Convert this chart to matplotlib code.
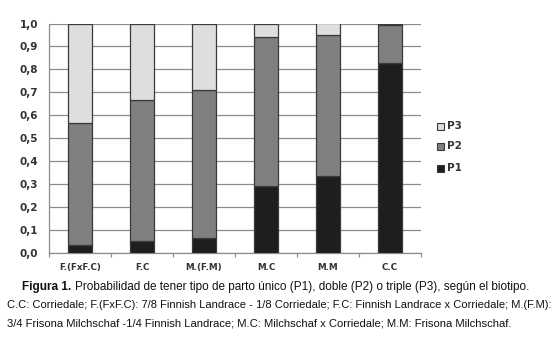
import matplotlib
matplotlib.use("Agg")
import matplotlib.pyplot as plt
import numpy as np

# Genotype groups and probability of single (P1), twin (P2) and triplet (P3) births
biotipos = ["F.(FxF.C)", "F.C", "M.(F.M)", "M.C", "M.M", "C.C"]
p1 = [0.035, 0.052, 0.064, 0.292, 0.336, 0.827]
p2 = [0.531, 0.613, 0.645, 0.647, 0.616, 0.167]
p3 = [0.434, 0.335, 0.291, 0.061, 0.048, 0.006]
yticks = [round(0.1 * i, 1) for i in range(11)]
ytick_labels = [f"{v:.1f}".replace(".", ",") for v in yticks]

W, H = 557, 339
fig = plt.figure(figsize=(W / 100, H / 100), dpi=100)
ax = fig.add_axes([49 / W, 1 - 252.7 / H, (421 - 49) / W, (252.7 - 23.5) / H])

x = np.arange(len(biotipos))
edge = "#3a3a3a"
width = 0.39
ax.bar(x, p1, width, color="#1f1d1e", edgecolor=edge, linewidth=0.9, label="P1", zorder=3)
ax.bar(x, p2, width, bottom=p1, color="#808080", edgecolor=edge, linewidth=0.9, label="P2", zorder=3)
bottom3 = np.array(p1) + np.array(p2)
ax.bar(x, p3, width, bottom=bottom3, color="#dedede", edgecolor=edge, linewidth=0.9, label="P3", zorder=3)

ax.set_xlim(-0.5, len(biotipos) - 0.5)
ax.set_ylim(0, 1.0)
ax.set_yticks(yticks)
ax.set_yticklabels(ytick_labels, fontsize=7.5, fontweight="bold", color="#333333")
ax.yaxis.grid(True, color="#8c8c8c", linewidth=0.9, zorder=0)
ax.tick_params(axis="y", length=0, pad=8)

# Category boundary ticks on the x axis, labels centred on bars
ax.set_xticks(np.arange(-0.5, len(biotipos)))
ax.set_xticklabels([])
ax.tick_params(axis="x", direction="out", length=3, color="#8c8c8c", width=0.9)
for xi, lab in zip(x, biotipos):
    ax.text(xi, -0.066, lab, ha="center", va="center", fontsize=6.3, fontweight="bold",
            color="#333333")

for s in ["top", "right"]:
    ax.spines[s].set_visible(False)
for s in ["left", "bottom"]:
    ax.spines[s].set_color("#8c8c8c")
    ax.spines[s].set_linewidth(0.9)

# Legend to the right
leg_items = [("P3", "#dedede", 126), ("P2", "#808080", 146), ("P1", "#1f1d1e", 168)]
for lab, col, py in leg_items:
    fig.patches.append(plt.Rectangle((437 / W, 1 - (py + 3.5) / H), 7 / W, 7 / H,
                                     transform=fig.transFigure, facecolor=col,
                                     edgecolor="#3a3a3a", linewidth=0.8))
    fig.text(447 / W, 1 - py / H, lab, ha="left", va="center", fontsize=7.5,
             fontweight="bold", color="#333333")

# Caption: each line is sized so it spans its column width
cap_kw = dict(ha="left", va="center", color="#111111",
              family=["Liberation Sans", "DejaVu Sans"])
renderer = fig.canvas.get_renderer()


def fit(t, target_px, base=11.0):
    w = t.get_window_extent(renderer).width
    t.set_fontsize(base * target_px / w)


t1a = fig.text(22 / W, 1 - 287 / H, "Figura 1.", fontsize=11, fontweight="bold", **cap_kw)
t1b = fig.text(0, 1 - 287 / H,
               "Probabilidad de tener tipo de parto único (P1), doble (P2) o triple (P3), según el biotipo.",
               fontsize=11, **cap_kw)
# scale line 1 jointly
wa = t1a.get_window_extent(renderer).width
wb = t1b.get_window_extent(renderer).width
s = (529 - 22 - 4) / (wa + wb)
t1a.set_fontsize(11 * s)
t1b.set_fontsize(11 * s)
fig.canvas.draw()
bb = t1a.get_window_extent(renderer)
t1b.set_x((bb.x1 + 4) / W)

t2 = fig.text(7 / W, 1 - 305 / H,
              "C.C: Corriedale; F.(FxF.C): 7/8 Finnish Landrace - 1/8 Corriedale; F.C: Finnish Landrace x Corriedale; M.(F.M):",
              fontsize=11, **cap_kw)
fit(t2, 549 - 7)
t3 = fig.text(7 / W, 1 - 323 / H,
              "3/4 Frisona Milchschaf -1/4 Finnish Landrace; M.C: Milchschaf x Corriedale; M.M: Frisona Milchschaf.",
              fontsize=11, **cap_kw)
fit(t3, 514 - 7)

fig.savefig("out.png", dpi=100)
